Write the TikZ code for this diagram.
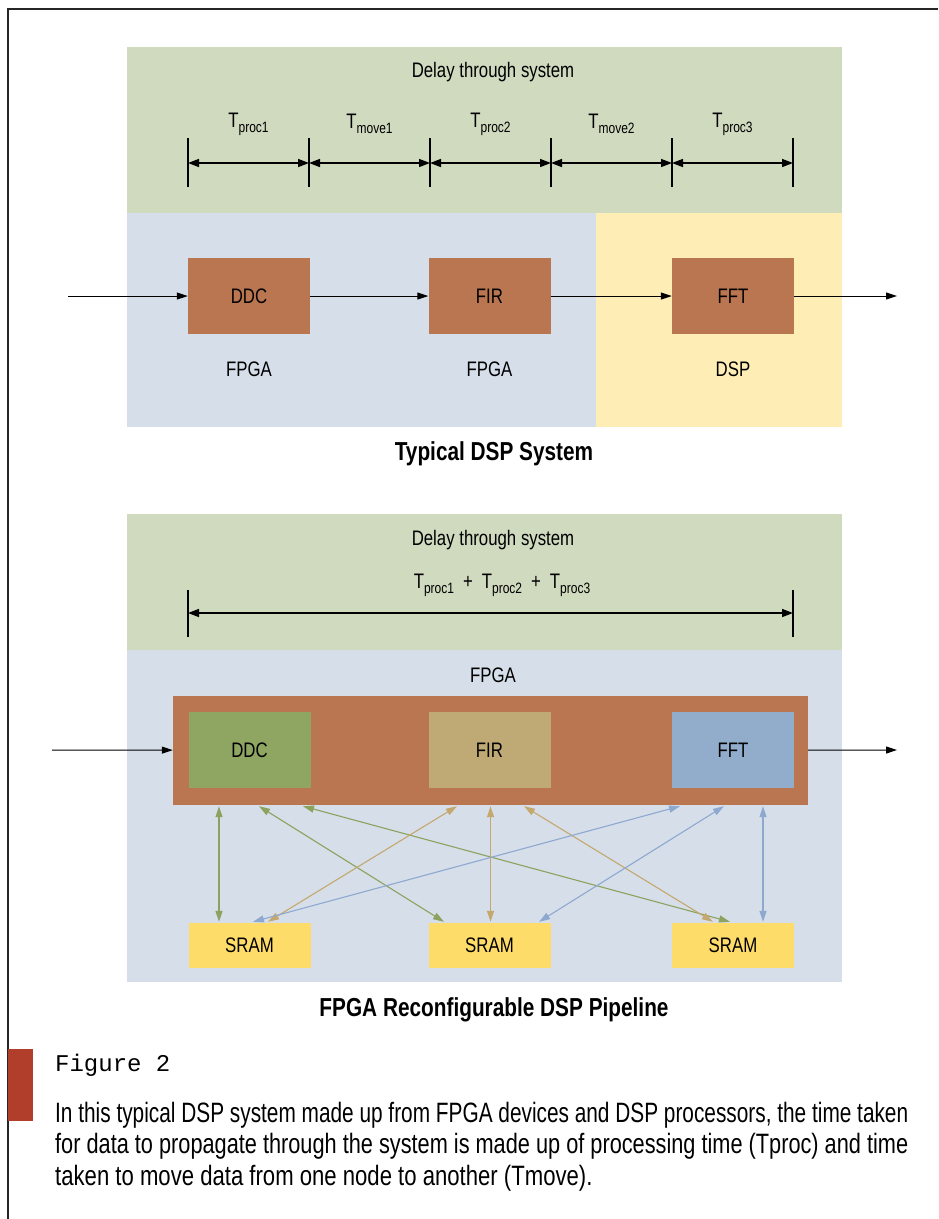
\documentclass[tikz,border=0pt]{standalone}
\usepackage{fontspec}
\setmainfont{Liberation Sans}[FakeStretch=0.8]
\newfontfamily\capfont{Liberation Sans}[FakeStretch=0.79]
\newfontfamily\figfont{Liberation Mono}
\usetikzlibrary{arrows.meta,calc}

\definecolor{panelgreen}{HTML}{D0DABF}
\definecolor{panelblue}{HTML}{D6DEE9}
\definecolor{panelyellow}{HTML}{FEEDB5}
\definecolor{blockbrown}{HTML}{BA7650}
\definecolor{ddcgreen}{HTML}{8FA562}
\definecolor{firtan}{HTML}{BFA975}
\definecolor{fftblue}{HTML}{92ADCC}
\definecolor{sramyellow}{HTML}{FEDC6A}
\definecolor{figred}{HTML}{B13D2B}
\definecolor{busgreen}{HTML}{8BA35E}
\definecolor{bustan}{HTML}{C4A86E}
\definecolor{busblue}{HTML}{8EA9CF}

% T with a lowered subscript, as in T_proc1
\newcommand\Tlabel[1]{T\raisebox{-0.45ex}{\fontsize{15}{15}\selectfont #1}}
\newcommand\plus{\hspace{9pt}+\hspace{9pt}}
% a caption line set to the full column width
\newcommand\fullline[1]{\resizebox{853pt}{\height}{#1}}

\begin{document}
\begin{tikzpicture}[x=1pt,y=-1pt,
  lbl/.style={font=\fontsize{21}{23}\selectfont, inner sep=0},
  title/.style={font=\bfseries\fontsize{26}{28}\selectfont, inner sep=0},
  block/.style={minimum width=122pt, minimum height=76pt, inner sep=0,
                font=\fontsize{21}{23}\selectfont},
  sram/.style={block, fill=sramyellow, minimum height=45pt},
  flow/.style={-{Triangle[length=11pt,width=7pt]}, line width=1pt},
  dim/.style={{Triangle[length=11pt,width=8pt]}-{Triangle[length=11pt,width=8pt]}, line width=1.5pt},
  tick/.style={line width=1.2pt},
  bus/.style={{Triangle[length=11pt,width=7pt]}-{Triangle[length=11pt,width=7pt]}, line width=1.1pt},
  capline/.style={anchor=base west, inner sep=0, font=\capfont\fontsize{28}{32}\selectfont},
]
\useasboundingbox (0,0) rectangle (938,1219);

% page frame
\draw[line width=2pt, color=black!85] (8,1219) -- (8,9) -- (938,9);

% ---------------- typical DSP system ----------------
\fill[panelgreen]  (127,47)  rectangle (842,213);
\fill[panelblue]   (127,213) rectangle (596,427);
\fill[panelyellow] (596,213) rectangle (842,427);

\node[lbl] (delay1) at (493,72) {Delay through system};

\foreach \x [count=\i from 0] in {188,309,430,551,672,793}
  \coordinate (a\i) at (\x,163);
\foreach \i in {0,...,5}
  \draw[tick] ([yshift=25pt]a\i) -- ([yshift=-24pt]a\i);
\draw[dim] (a0) -- (a1);
\draw[dim] (a1) -- (a2);
\draw[dim] (a2) -- (a3);
\draw[dim] (a3) -- (a4);
\draw[dim] (a4) -- (a5);
\node[lbl] (tp1) at ($(a0)!0.5!(a1)+(0,-39)$) {\Tlabel{proc1}};
\node[lbl] (tm1) at ($(a1)!0.5!(a2)+(0,-39)$) {\Tlabel{move1}};
\node[lbl] (tp2) at ($(a2)!0.5!(a3)+(0,-39)$) {\Tlabel{proc2}};
\node[lbl] (tm2) at ($(a3)!0.5!(a4)+(0,-39)$) {\Tlabel{move2}};
\node[lbl] (tp3) at ($(a4)!0.5!(a5)+(0,-39)$) {\Tlabel{proc3}};

\node[block, fill=blockbrown] (ddc1) at (249,296)   {DDC};
\node[block, fill=blockbrown] (fir1) at (489.5,296) {FIR};
\node[block, fill=blockbrown] (fft1) at (733,296)   {FFT};
\coordinate (in1)  at (68,296);
\coordinate (out1) at (897,296);
\draw[flow] (in1) -- (ddc1);
\draw[flow] (ddc1) -- (fir1);
\draw[flow] (fir1) -- (fft1);
\draw[flow] (fft1) -- (out1);

\node[lbl] (dev1) at (249,369)   {FPGA};
\node[lbl] (dev2) at (489.5,369) {FPGA};
\node[lbl] (dev3) at (733,369)   {DSP};

\node[title] (cap1) at (494,454) {Typical DSP System};

% ---------------- reconfigurable pipeline ----------------
\fill[panelgreen] (127,514) rectangle (842,650);
\fill[panelblue]  (127,650) rectangle (842,982);

\node[lbl] (delay2) at (493,540) {Delay through system};
\node[lbl] (sum)    at (502,585) {\Tlabel{proc1}\plus\Tlabel{proc2}\plus\Tlabel{proc3}};
\coordinate (b0) at (188,613);
\coordinate (b1) at (793,613);
\draw[tick] ([yshift=23pt]b0) -- ([yshift=-24pt]b0);
\draw[tick] ([yshift=23pt]b1) -- ([yshift=-24pt]b1);
\draw[dim] (b0) -- (b1);

\node[lbl] (fpgalbl) at (493,675) {FPGA};

\node[fill=blockbrown, minimum width=635pt, minimum height=109pt, inner sep=0] (fpga) at (490.5,750.5) {};
\node[block, fill=ddcgreen] (ddc2) at (249.5,750) {DDC};
\node[block, fill=firtan]   (fir2) at (489.5,750) {FIR};
\node[block, fill=fftblue]  (fft2) at (733,750)   {FFT};

\coordinate (in2)  at (52,750);
\coordinate (out2) at (897,750);
\draw[flow] (in2) -- (fpga);
\draw[flow] (fpga) -- (out2);

\node[sram] (s1) at (249.5,945.5) {SRAM};
\node[sram] (s2) at (489.5,945.5) {SRAM};
\node[sram] (s3) at (733,945.5)   {SRAM};

% memory buses, coloured by the block that owns them
\draw[bus, busgreen] ([xshift=-271.5pt,yshift=-1pt]fpga.south) -- ([xshift=-30.5pt,yshift=1pt]s1.north);
\draw[bus, busgreen] ([xshift=-231.5pt,yshift=-1pt]fpga.south) -- ([xshift=-45.5pt,yshift=1pt]s2.north);
\draw[bus, busgreen] ([xshift=-187.5pt,yshift=-1pt]fpga.south) -- ([xshift=-3pt,yshift=1pt]s3.north);
\draw[bus, bustan]   ([xshift=-33.5pt,yshift=-1pt]fpga.south)  -- ([xshift=18.5pt,yshift=1pt]s1.north);
\draw[bus, bustan]   ([xshift=0pt,yshift=-1pt]fpga.south)      -- ([xshift=1pt,yshift=1pt]s2.north);
\draw[bus, bustan]   ([xshift=33.5pt,yshift=-1pt]fpga.south)   -- ([xshift=-20pt,yshift=1pt]s3.north);
\draw[bus, busblue]  ([xshift=189.5pt,yshift=-1pt]fpga.south)  -- ([xshift=3.5pt,yshift=1pt]s1.north);
\draw[bus, busblue]  ([xshift=233.5pt,yshift=-1pt]fpga.south)  -- ([xshift=49.5pt,yshift=1pt]s2.north);
\draw[bus, busblue]  ([xshift=272.5pt,yshift=-1pt]fpga.south)  -- ([xshift=30pt,yshift=1pt]s3.north);

\node[title] (cap2) at (494,1010) {FPGA Reconfigurable DSP Pipeline};

% ---------------- figure caption ----------------
\fill[figred] (8,1049) rectangle (33,1121);
\node[anchor=base west, inner sep=0, font=\figfont\fontsize{24}{26}\selectfont] (fig) at (55,1071) {Figure 2};
\node[capline] (l1) at (55,1122)
  {\fullline{In this typical DSP system made up from FPGA devices and DSP processors, the time taken}};
\node[capline] (l2) at (55,1153.5)
  {\fullline{for data to propagate through the system is made up of processing time (Tproc) and time}};
\node[capline] (l3) at (55,1185)
  {taken to move data from one node to another (Tmove).};
\end{tikzpicture}
\end{document}
